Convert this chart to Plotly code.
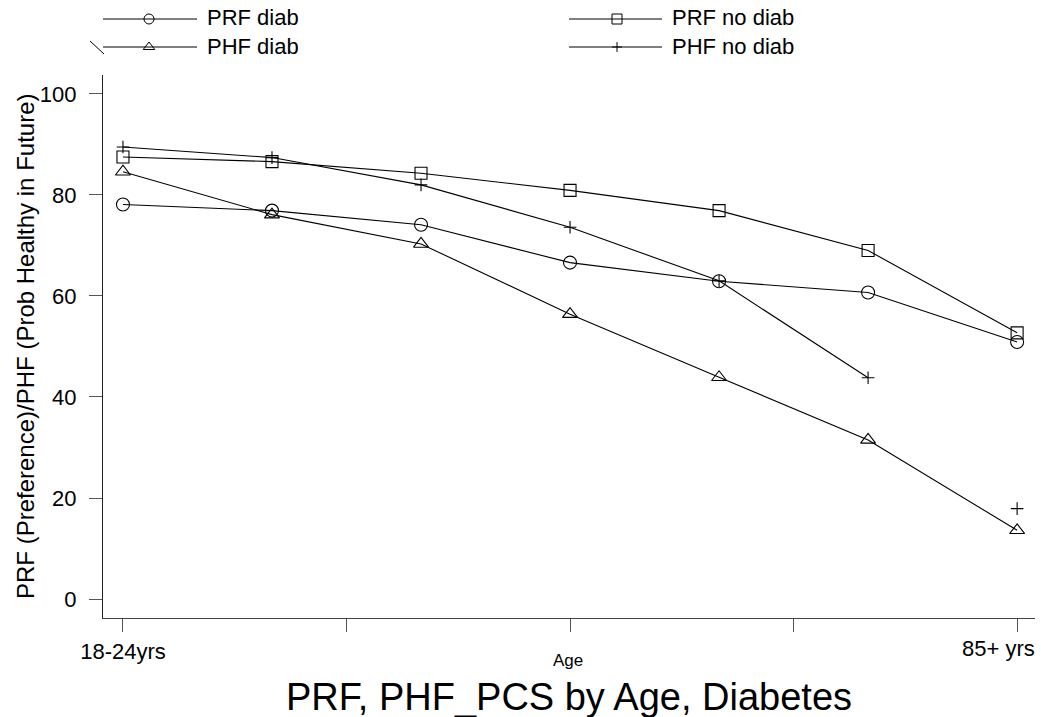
import plotly.graph_objects as go

categories = ["18-24yrs", "25-34", "35-44", "45-54", "55-64", "65-74", "85+ yrs"]
cat_index = [0, 1, 2, 3, 4, 5, 6]
tick_positions = [0, 1.5, 3, 4.5, 6]
tick_labels = ["18-24yrs", "", "", "", "85+ yrs"]

prf_diab = [78.1, 76.9, 74.1, 66.6, 62.9, 60.7, 50.9]
prf_nodiab = [87.5, 86.6, 84.3, 80.9, 76.9, 69.0, 52.7]
phf_diab = [84.6, 76.1, 70.3, 56.4, 43.9, 31.5, 13.6]
phf_nodiab = [89.5, 87.4, 82.0, 73.6, 63.0, 43.8, 17.9]

W, H = 1041, 717
FONT = "Liberation Sans, Arial, sans-serif"
LINE = dict(color="black", width=1.1)

def px(x):
    return x / W

def py(y):
    return 1 - y / H

fig = go.Figure()

def add_series(name, vals, symbol, size, connect_all=True):
    n = len(vals) if connect_all else len(vals) - 1
    fig.add_trace(go.Scatter(
        x=cat_index[:n], y=vals[:n], mode="lines+markers", name=name,
        line=LINE,
        marker=dict(symbol=symbol, size=size, color="black",
                    line=dict(color="black", width=1.1)),
        showlegend=False, cliponaxis=False))
    if not connect_all:
        fig.add_trace(go.Scatter(
            x=cat_index[n:], y=vals[n:], mode="markers", name=name,
            marker=dict(symbol=symbol, size=size, color="black",
                        line=dict(color="black", width=1.1)),
            showlegend=False, cliponaxis=False))

add_series("PRF diab", prf_diab, "circle-open", 13)
add_series("PRF no diab", prf_nodiab, "square-open", 12)
add_series("PHF diab", phf_diab, "triangle-up-open", 13)
add_series("PHF no diab", phf_nodiab, "cross-thin-open", 9, connect_all=False)

# Legend drawn in pixel space on an overlay axis
legend_items = [
    ("PRF diab", "circle-open", 10, 103, 197, 149, 205, 19),
    ("PRF no diab", "square-open", 10, 569, 662, 617, 670, 19),
    ("PHF diab", "triangle-up-open", 10, 103, 197, 149, 205, 47),
    ("PHF no diab", "cross-thin-open", 7, 569, 662, 617, 670, 47),
]
shapes = []
annotations = []
for name, sym, sz, x0, x1, xm, xt, yy in legend_items:
    shapes.append(dict(type="line", xref="paper", yref="paper",
                       x0=px(x0), x1=px(x1), y0=py(yy), y1=py(yy),
                       line=dict(color="black", width=1)))
    fig.add_trace(go.Scatter(
        x=[xm], y=[yy], mode="markers", xaxis="x2", yaxis="y2",
        marker=dict(symbol=sym, size=sz, color="black",
                    line=dict(color="black", width=1)),
        showlegend=False, hoverinfo="skip", cliponaxis=False))
    annotations.append(dict(text=name, x=px(xt), y=py(yy - 1), xref="paper", yref="paper",
                            xanchor="left", yanchor="middle", showarrow=False,
                            font=dict(size=22, color="black", family=FONT)))
# small slash artifact next to second legend row
shapes.append(dict(type="line", xref="paper", yref="paper",
                   x0=px(90), x1=px(104), y0=py(41), y1=py(54),
                   line=dict(color="black", width=1)))

# last category label, shifted left so it stays inside the page
annotations.append(dict(text=tick_labels[-1], x=tick_positions[-1], xref="x",
                        y=py(634), yref="paper", xanchor="right", yanchor="top",
                        xshift=20, showarrow=False,
                        font=dict(size=22, color="black", family=FONT)))

annotations.append(dict(text="Age", x=px(568), y=py(660), xref="paper", yref="paper",
                        xanchor="center", yanchor="middle", showarrow=False,
                        font=dict(size=17, color="black", family=FONT)))
annotations.append(dict(text="PRF, PHF_PCS by Age, Diabetes", x=px(569), y=py(697),
                        xref="paper", yref="paper", xanchor="center", yanchor="middle",
                        showarrow=False, font=dict(size=38, color="black", family=FONT)))
annotations.append(dict(text="PRF (Preference)/PHF (Prob Healthy in Future)", x=px(25), y=py(346),
                        xref="paper", yref="paper", xanchor="center", yanchor="middle",
                        textangle=-90, showarrow=False,
                        font=dict(size=24, color="black", family=FONT)))

fig.update_layout(
    width=W, height=H,
    margin=dict(l=0, r=0, t=0, b=0),
    paper_bgcolor="white", plot_bgcolor="rgba(0,0,0,0)",
    font=dict(family=FONT, size=19, color="black"),
    xaxis=dict(domain=[px(103), px(1035)], range=[-0.134, 6.12],
               tickvals=tick_positions, ticktext=tick_labels[:-1] + [""],
               ticks="outside", ticklen=13, tickcolor="#555", tickwidth=1,
               showline=True, linecolor="#444", linewidth=1.2,
               showgrid=False, zeroline=False, automargin=False,
               tickfont=dict(size=22, color="black", family=FONT)),
    yaxis=dict(domain=[1 - 618 / H, 1 - 75 / H], range=[-3.76, 103.75],
               tickvals=[0, 20, 40, 60, 80, 100],
               ticks="outside", ticklen=13, tickcolor="#555", tickwidth=1,
               ticklabelstandoff=8,
               showline=True, linecolor="#222", linewidth=1.2,
               showgrid=False, zeroline=False, automargin=False,
               tickfont=dict(size=22, color="black", family=FONT)),
    xaxis2=dict(domain=[0, 1], range=[0, W], visible=False, anchor="y2", fixedrange=True),
    yaxis2=dict(domain=[0, 1], range=[H, 0], visible=False, anchor="x2", fixedrange=True),
    shapes=shapes,
    annotations=annotations,
    showlegend=False,
)

fig.write_html("out.html")
